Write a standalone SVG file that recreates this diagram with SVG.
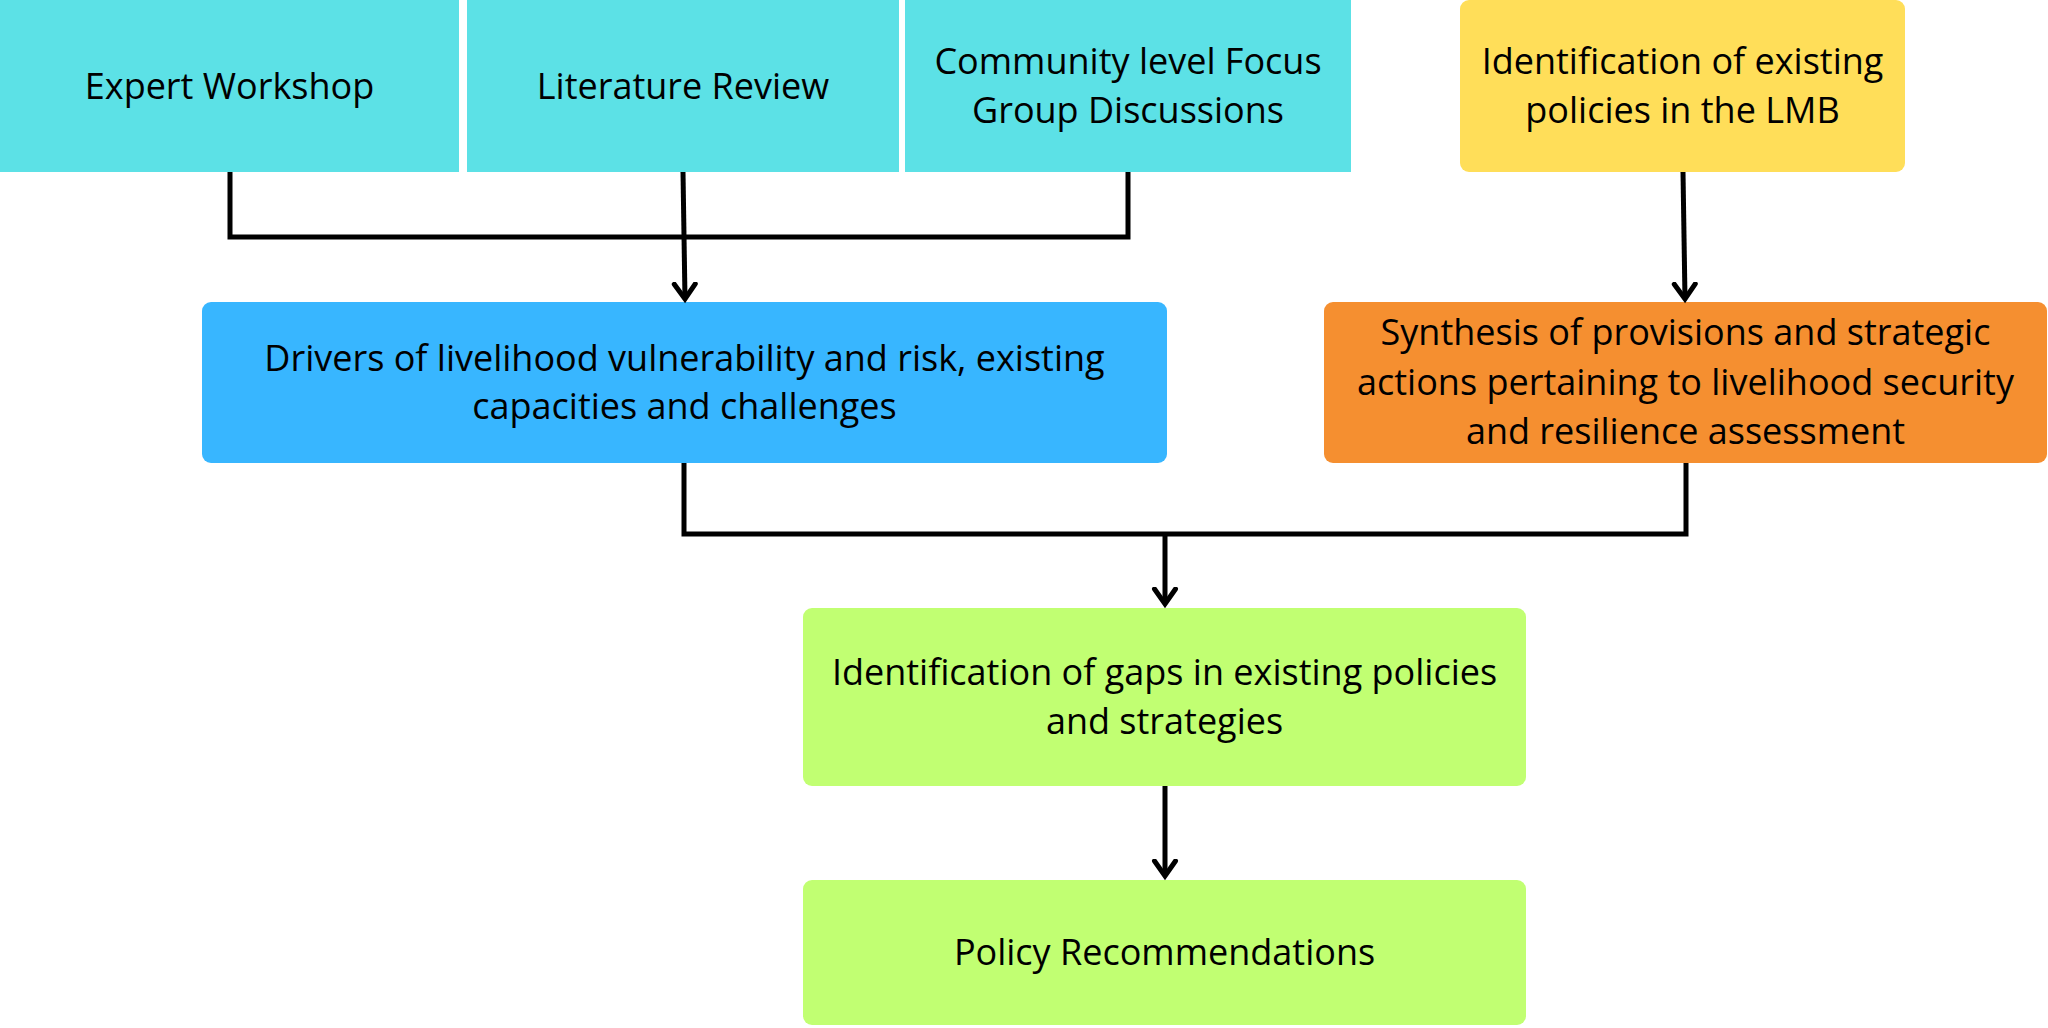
<svg xmlns="http://www.w3.org/2000/svg" width="2048" height="1028" viewBox="0 0 2048 1028">
<style>
  .t { font-family: "Open Sans", "Noto Sans", "Liberation Sans", sans-serif; font-size: 36px; fill: #000; text-anchor: middle; }
  .c { fill: none; stroke: #000; stroke-width: 5; stroke-linejoin: miter; }
  .cyan { fill: #5ce1e6; }
  .blue { fill: #38b6ff; }
  .yellow { fill: #ffde59; }
  .orange { fill: #f58f30; }
  .green { fill: #c1ff72; }
</style>
<defs>
  <marker id="arr" markerUnits="userSpaceOnUse" markerWidth="34" markerHeight="34" refX="17" refY="20" orient="auto" viewBox="0 0 34 34">
    <path d="M6.5 5 L17 20 L27.5 5" transform="rotate(-90 17 20)" fill="none" stroke="#000" stroke-width="5" stroke-linecap="round" stroke-linejoin="miter"/>
  </marker>
</defs>
<rect width="2048" height="1028" fill="#fff"/>
<g id="expert-workshop">
  <rect class="cyan" x="0" y="0" width="459" height="172"/>
  <text class="t" x="229.5" y="99">Expert Workshop</text>
</g>
<g id="literature-review">
  <rect class="cyan" x="467" y="0" width="432" height="172"/>
  <text class="t" x="683" y="99">Literature Review</text>
</g>
<g id="focus-groups">
  <rect class="cyan" x="905" y="0" width="446" height="172"/>
  <text class="t" x="1128" y="74">Community level Focus</text>
  <text class="t" x="1128" y="123">Group Discussions</text>
</g>
<g id="existing-policies">
  <rect class="yellow" x="1460" y="0" width="445" height="172" rx="9"/>
  <text class="t" x="1682.5" y="74">Identification of existing</text>
  <text class="t" x="1682.5" y="123">policies in the LMB</text>
</g>
<g id="drivers">
  <rect class="blue" x="202" y="302" width="965" height="161" rx="9"/>
  <text class="t" x="684.5" y="371">Drivers of livelihood vulnerability and risk, existing</text>
  <text class="t" x="684.5" y="419">capacities and challenges</text>
</g>
<g id="synthesis">
  <rect class="orange" x="1324" y="302" width="723" height="161" rx="9"/>
  <text class="t" x="1685.5" y="345">Synthesis of provisions and strategic</text>
  <text class="t" x="1685.5" y="395">actions pertaining to livelihood security</text>
  <text class="t" x="1685.5" y="444">and resilience assessment</text>
</g>
<g id="gaps">
  <rect class="green" x="803" y="608" width="723" height="178" rx="9"/>
  <text class="t" x="1164.5" y="685">Identification of gaps in existing policies</text>
  <text class="t" x="1164.5" y="734">and strategies</text>
</g>
<g id="recommendations">
  <rect class="green" x="803" y="880" width="723" height="145" rx="9"/>
  <text class="t" x="1164.5" y="965">Policy Recommendations</text>
</g>
<g id="connectors">
  <polyline class="c" points="230,172 230,237 1128,237 1128,172"/>
  <line class="c" x1="683" y1="172" x2="685" y2="299" marker-end="url(#arr)"/>
  <line class="c" x1="1683" y1="172" x2="1685" y2="299" marker-end="url(#arr)"/>
  <polyline class="c" points="684,463 684,534 1686,534 1686,463"/>
  <line class="c" x1="1165" y1="534" x2="1165" y2="604" marker-end="url(#arr)"/>
  <line class="c" x1="1165" y1="786" x2="1165" y2="876" marker-end="url(#arr)"/>
</g>
</svg>
